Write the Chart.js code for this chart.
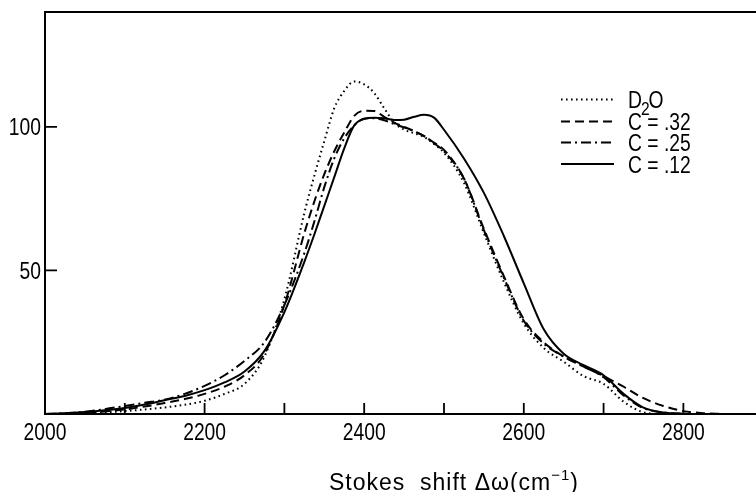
<!DOCTYPE html>
<html>
<head>
<meta charset="utf-8">
<script src="https://cdn.jsdelivr.net/npm/chart.js@4.4.1/dist/chart.umd.min.js"></script>
<style>
  html, body { margin: 0; padding: 0; background: #fff; overflow: hidden; }
  #wrap { width: 756px; height: 492px; }
</style>
</head>
<body>
<div id="wrap"><canvas id="chart" width="756" height="492"></canvas></div>
<script>
// Stokes shift (cm-1); denser around the peak
const shifts = [2000, 2025, 2050, 2075, 2100, 2125, 2150, 2175, 2200, 2225, 2250, 2275,
  2300, 2325, 2337.5, 2350, 2362.5, 2375, 2387.5, 2400, 2412.5, 2425, 2437.5, 2450,
  2462.5, 2475, 2487.5, 2500, 2525, 2550, 2575, 2600, 2625, 2650, 2675, 2700, 2725,
  2750, 2775, 2800, 2825, 2850];

// intensities
const d2o = [0, 0.1, 0.3, 0.6, 1.0, 1.6, 2.3, 3.2, 4.6, 7.0, 10.5, 20,
  40, 70, 83, 95, 106.5, 112.5, 115.8, 114.8, 111.8, 106.5, 101.5, 99,
  97.8, 96.5, 94, 91, 80.5, 63, 46, 31.5, 23, 18.2, 13.2, 10.5, 4.3,
  0.6, 0, 0, 0, 0];
const c32 = [0, 0.1, 0.4, 0.9, 1.6, 2.6, 3.8, 5.2, 7.0, 9.5, 13.5, 21,
  38, 63, 74, 83.5, 91.5, 98, 103.8, 105.6, 105.5, 103.5, 101.5, 100,
  98.5, 96.8, 94.5, 92, 82, 64.5, 48, 33, 25, 20, 16.5, 13.2, 9.5,
  5.5, 2.8, 1.0, 0.3, 0];
const c25 = [0, 0.2, 0.8, 1.7, 2.8, 3.9, 5.0, 7.0, 9.8, 13.5, 18.5, 25,
  38, 56, 67, 79, 89, 96, 100.5, 102.8, 103, 102.3, 101, 99.8,
  98.5, 96.8, 94.3, 91.5, 82, 64, 47.5, 32.5, 24.5, 20, 16.5, 12.8, 6.5,
  2, 0.5, 0.1, 0, 0];
const c12 = [0, 0.3, 0.7, 1.3, 2.1, 3.3, 4.8, 6.3, 8.3, 11.0, 14.8, 22,
  35.5, 53, 62.5, 72.5, 82.5, 92.5, 100.5, 102.8, 103.2, 103, 102.4, 102.5,
  103.5, 104.2, 103.2, 99, 89, 77, 62, 45.5, 29.5, 21, 17, 13.5, 7,
  2.2, 0.5, 0.1, 0, 0];

const seriesLabels = ['D2O', 'C = .32', 'C = .25', 'C = .12'];
const xTicks = [2000, 2100, 2200, 2300, 2400, 2500, 2600, 2700, 2800];
const xLabelled = [2000, 2200, 2400, 2600, 2800];
const yTicks = [50, 100];

const sans = '"Liberation Sans", Arial, sans-serif';

const toPoints = ys => shifts.map((s, i) => ({ x: s, y: ys[i] }));

// the original lettering is tall and narrow, so squeeze it sideways
function narrowText(ctx, text, x, y, align, size) {
  ctx.save();
  ctx.font = size + 'px ' + sans;
  ctx.textAlign = align;
  ctx.textBaseline = 'alphabetic';
  ctx.translate(x, y);
  ctx.scale(0.82, 1);
  ctx.fillText(text, 0, 0);
  const w = ctx.measureText(text).width * 0.82;
  ctx.restore();
  return w;
}

// top edge, inward ticks, tick labels, legend and axis title
const decor = {
  id: 'decor',
  afterDraw(chart) {
    const { ctx, chartArea: a, scales: { x, y } } = chart;
    ctx.save();
    ctx.strokeStyle = '#000';
    ctx.fillStyle = '#000';

    ctx.lineWidth = 2;
    ctx.beginPath();
    ctx.moveTo(a.left - 1, a.top);
    ctx.lineTo(a.right, a.top);
    ctx.stroke();

    ctx.lineWidth = 1.8;
    ctx.beginPath();
    x.ticks.forEach(t => {
      const px = x.getPixelForValue(t.value);
      if (t.value > 2000) {
        ctx.moveTo(px, a.bottom);
        ctx.lineTo(px, a.bottom - 11);
      }
      if (xLabelled.includes(t.value)) narrowText(ctx, String(t.value), px, a.bottom + 26, 'center', 23.5);
    });
    y.ticks.forEach(t => {
      const py = y.getPixelForValue(t.value);
      ctx.moveTo(a.left, py);
      ctx.lineTo(a.left + 12, py);
      narrowText(ctx, String(t.value), a.left - 4, py + 8.5, 'right', 23.5);
    });
    ctx.stroke();

    // legend
    const rows = [99.5, 121.5, 142.5, 164];
    const lx0 = 561, lx1 = 614, tx = 628;
    chart.data.datasets.forEach((ds, i) => {
      ctx.save();
      ctx.lineWidth = ds.borderWidth;
      ctx.setLineDash(ds.borderDash || []);
      ctx.beginPath();
      ctx.moveTo(lx0, rows[i]);
      ctx.lineTo(lx1, rows[i]);
      ctx.stroke();
      ctx.restore();
      const base = rows[i] + 8.5;
      if (ds.label === 'D2O') {
        let cx = tx;
        cx += narrowText(ctx, 'D', cx, base, 'left', 23.5);
        cx += narrowText(ctx, '2', cx - 1, base + 7, 'left', 19) - 2;
        narrowText(ctx, 'O', cx, base, 'left', 23.5);
      } else {
        narrowText(ctx, ds.label, tx, base, 'left', 23.5);
      }
    });

    // axis title
    const baseY = 490;
    const big = '23px ' + sans;
    const small = '15px ' + sans;
    ctx.letterSpacing = '1px';
    ctx.textBaseline = 'alphabetic';
    ctx.textAlign = 'left';
    const parts = [
      { t: 'Stokes  shift \u0394\u03c9(cm', f: big, dy: 0 },
      { t: '\u22121', f: small, dy: -10 },
      { t: ')', f: big, dy: 0 }
    ];
    let total = 0;
    parts.forEach(p => { ctx.font = p.f; p.w = ctx.measureText(p.t).width; total += p.w; });
    let cx = a.left + 409 - total / 2;
    parts.forEach(p => { ctx.font = p.f; ctx.fillText(p.t, cx, baseY + p.dy); cx += p.w; });
    ctx.restore();
  }
};

const line = (label, ys, dash, width) => ({
  label,
  data: toPoints(ys),
  borderColor: '#000',
  backgroundColor: '#000',
  borderWidth: width,
  borderDash: dash,
  pointRadius: 0,
  fill: false,
  cubicInterpolationMode: 'monotone'
});

new Chart(document.getElementById('chart').getContext('2d'), {
  type: 'line',
  data: {
    datasets: [
      line(seriesLabels[0], d2o, [1.6, 3.4], 2),
      line(seriesLabels[1], c32, [9, 5], 2),
      line(seriesLabels[2], c25, [10, 4, 2, 4], 2),
      line(seriesLabels[3], c12, [], 2)
    ]
  },
  options: {
    responsive: false,
    animation: false,
    devicePixelRatio: 1,
    layout: { padding: { top: 12, right: 0, left: 0, bottom: 0 } },
    plugins: { legend: { display: false }, tooltip: { enabled: false } },
    scales: {
      x: {
        type: 'linear',
        min: 2000,
        max: 2891,
        grid: { display: false },
        border: { display: true, color: '#000', width: 2 },
        afterFit: s => { s.height = 78; },
        afterBuildTicks: s => { s.ticks = xTicks.map(v => ({ value: v })); },
        ticks: { display: false }
      },
      y: {
        min: 0,
        max: 140,
        grid: { display: false },
        border: { display: true, color: '#000', width: 2 },
        afterFit: s => { s.width = 45; },
        afterBuildTicks: s => { s.ticks = yTicks.map(v => ({ value: v })); },
        ticks: { display: false }
      }
    }
  },
  plugins: [decor]
});
</script>
</body>
</html>
